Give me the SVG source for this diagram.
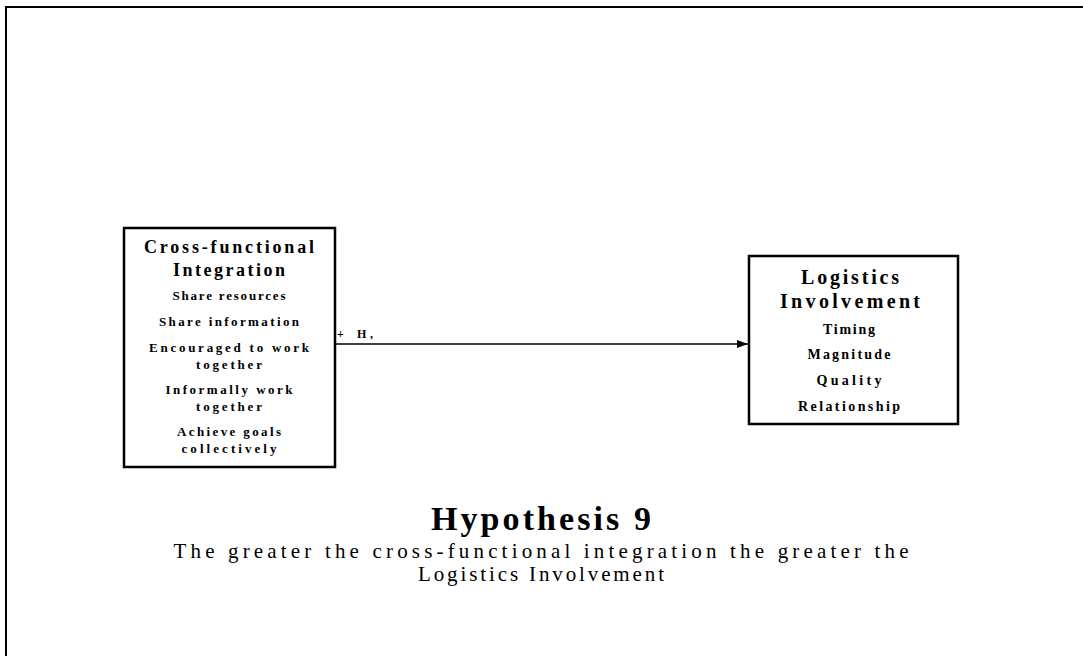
<svg xmlns="http://www.w3.org/2000/svg" width="1083" height="656" viewBox="0 0 1083 656">
  <style>
    .frame { stroke: #000; stroke-width: 2; fill: none; }
    .box { fill: #fff; stroke: #000; stroke-width: 2.5; }
    .head { font-family: "Liberation Serif", serif; font-weight: bold; font-size: 18px; text-anchor: middle; fill: #000; }
    .head-lg { font-family: "Liberation Serif", serif; font-weight: bold; font-size: 20px; text-anchor: middle; fill: #000; }
    .item { font-family: "Liberation Serif", serif; font-weight: bold; font-size: 13px; text-anchor: middle; fill: #000; }
    .item-lg { font-family: "Liberation Serif", serif; font-weight: bold; font-size: 14px; text-anchor: middle; fill: #000; }
    .title { font-family: "Liberation Serif", serif; font-weight: bold; font-size: 34px; text-anchor: middle; fill: #000; }
    .caption { font-family: "Liberation Serif", serif; font-size: 21px; text-anchor: middle; fill: #000; }
    .label { font-family: "Liberation Serif", serif; font-weight: bold; font-size: 12px; fill: #000; }
    .link { stroke: #000; stroke-width: 1.5; fill: none; }
  </style>
  <defs>
    <marker id="arrow" markerWidth="11" markerHeight="8" refX="11" refY="4" orient="auto" markerUnits="userSpaceOnUse">
      <path d="M0,0 L11,4 L0,8 Z" fill="#000"/>
    </marker>
  </defs>
  <rect width="1083" height="656" fill="#fff"/>
  <!-- page frame: top and left edges -->
  <path class="frame" d="M6,656 L6,7 L1083,7"/>

  <g id="connectors">
    <line class="link" x1="335" y1="344" x2="748" y2="344" marker-end="url(#arrow)"/>
    <text class="label" x="337" y="338">+</text>
    <text class="label" x="357" y="338" textLength="16" lengthAdjust="spacing">H,</text>
  </g>

  <g id="cross-functional-integration">
    <rect class="box" x="124" y="228" width="211" height="239"/>
    <text class="head" x="229" y="253" textLength="170" lengthAdjust="spacing">Cross-functional</text>
    <text class="head" x="229" y="276" textLength="112" lengthAdjust="spacing">Integration</text>
    <text class="item" x="229" y="300" textLength="113" lengthAdjust="spacing">Share resources</text>
    <text class="item" x="229" y="326" textLength="140" lengthAdjust="spacing">Share information</text>
    <text class="item" x="229" y="352" textLength="160" lengthAdjust="spacing">Encouraged to work</text>
    <text class="item" x="229" y="369" textLength="66" lengthAdjust="spacing">together</text>
    <text class="item" x="229" y="394" textLength="127" lengthAdjust="spacing">Informally work</text>
    <text class="item" x="229" y="411" textLength="66" lengthAdjust="spacing">together</text>
    <text class="item" x="229" y="436" textLength="104" lengthAdjust="spacing">Achieve goals</text>
    <text class="item" x="229" y="453" textLength="95" lengthAdjust="spacing">collectively</text>
  </g>

  <g id="logistics-involvement">
    <rect class="box" x="749" y="256" width="209" height="168"/>
    <text class="head-lg" x="850" y="284" textLength="98" lengthAdjust="spacing">Logistics</text>
    <text class="head-lg" x="850" y="308" textLength="140" lengthAdjust="spacing">Involvement</text>
    <text class="item-lg" x="849" y="334" textLength="52" lengthAdjust="spacing">Timing</text>
    <text class="item-lg" x="849" y="359" textLength="83" lengthAdjust="spacing">Magnitude</text>
    <text class="item-lg" x="849" y="385" textLength="65" lengthAdjust="spacing">Quality</text>
    <text class="item-lg" x="849" y="411" textLength="102" lengthAdjust="spacing">Relationship</text>
  </g>

  <g id="caption">
    <text class="title" x="541" y="530" textLength="220" lengthAdjust="spacing">Hypothesis 9</text>
    <text class="caption" x="541" y="558" textLength="735" lengthAdjust="spacing">The greater the cross-functional integration the greater the</text>
    <text class="caption" x="541" y="581" textLength="246" lengthAdjust="spacing">Logistics Involvement</text>
  </g>
</svg>
